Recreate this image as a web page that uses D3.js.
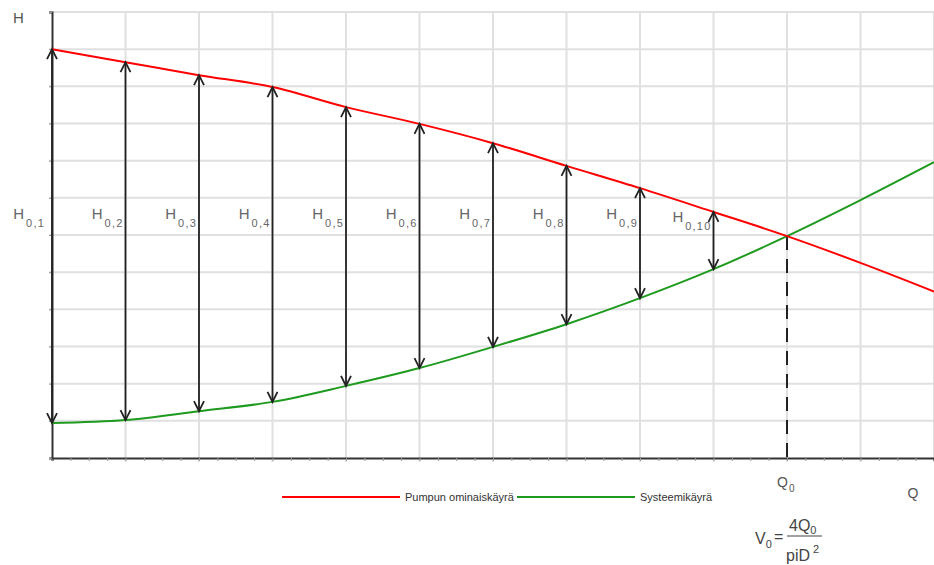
<!DOCTYPE html>
<html><head><meta charset="utf-8">
<script src="https://cdn.jsdelivr.net/npm/d3@7"></script>
<style>body{margin:0;background:#fff}svg{display:block;font-family:"Liberation Sans",Arial,sans-serif}</style>
</head><body><svg id="c" width="934" height="565"></svg>
<script>
const qValues = [0,1,2,3,4,5,6,7,8,9,10,11,12];
const pumpCurve = [11.0,10.65,10.3,9.98,9.44,8.99,8.47,7.86,7.26,6.62,5.97,5.25,4.48];
const systemCurve = [0.94,1.02,1.26,1.51,1.94,2.42,2.99,3.6,4.3,5.08,5.97,6.94,7.96];
const arrowQ = [0,1,2,3,4,5,6,7,8,9];
const arrowLabels = ["0,1","0,2","0,3","0,4","0,5","0,6","0,7","0,8","0,9","0,10"];
const legendNames = ["Pumpun ominaiskäyrä","Systeemikäyrä"];
const Q0 = 10;

const svg = d3.select("#c");
const x = d3.scaleLinear([0,12],[52,934]);
const y = d3.scaleLinear([0,12],[458,12]);
const RED = "#ff0000", GREEN = "#1e9a1e";

// grid
const g = svg.append("g");
g.selectAll(".gx").data(d3.range(1,13)).join("line")
  .attr("x1",d=>x(d)).attr("x2",d=>x(d)).attr("y1",y(12)).attr("y2",y(0)+4)
  .attr("stroke","#e0e0e0").attr("stroke-width",2);
g.selectAll(".gy").data(d3.range(1,13)).join("line")
  .attr("x1",x(0)-3).attr("x2",934).attr("y1",d=>y(d)).attr("y2",d=>y(d))
  .attr("stroke","#e0e0e0").attr("stroke-width",2);

// axes
const xAxis = d3.axisBottom(x).tickValues(d3.range(0,12.01,0.25)).tickSize(3).tickFormat("");
svg.append("g").attr("transform",`translate(0,${y(0)})`).call(xAxis)
  .call(a=>{a.select(".domain").attr("stroke","#333").attr("stroke-width",2);
            a.selectAll(".tick line").attr("stroke","#999");});
const yAxis = d3.axisLeft(y).tickValues(d3.range(0,12.01,1)).tickSize(3).tickFormat("");
svg.append("g").attr("transform",`translate(${x(0)},0)`).call(yAxis)
  .call(a=>{a.select(".domain").attr("stroke","#333").attr("stroke-width",2);
            a.selectAll(".tick line").attr("stroke","#999");});

// dashed Q0 line
svg.append("line").attr("x1",x(Q0)).attr("x2",x(Q0))
  .attr("y1",y(pumpCurve[qValues.indexOf(Q0)])).attr("y2",y(0))
  .attr("stroke","#222").attr("stroke-width",2).attr("stroke-dasharray","14,9");

// curves
const line = (arr)=>d3.line().x((d,i)=>x(qValues[i])).y(d=>y(d)).curve(d3.curveMonotoneX)(arr);
svg.append("path").attr("d",line(systemCurve)).attr("fill","none").attr("stroke",GREEN).attr("stroke-width",2);
svg.append("path").attr("d",line(pumpCurve)).attr("fill","none").attr("stroke",RED).attr("stroke-width",2);

// arrows
const ag = svg.append("g").attr("stroke","#222").attr("fill","none").attr("stroke-width",1.8);
arrowQ.forEach((q,i)=>{
  const px = x(q), yt = y(pumpCurve[i]), yb = y(systemCurve[i]);
  ag.append("line").attr("x1",px).attr("x2",px).attr("y1",yt).attr("y2",yb);
  ag.append("path").attr("d",`M${px-5},${yt+10}L${px},${yt}L${px+5},${yt+10}`);
  ag.append("path").attr("d",`M${px-5},${yb-10}L${px},${yb}L${px+5},${yb-10}`);
});

// H labels
arrowQ.forEach((q,i)=>{
  const t = svg.append("text").attr("x",x(q)-(i===0?7:2)).attr("y",219+(i===9?3:0))
    .attr("text-anchor","end").attr("fill","#666").attr("font-size",15);
  t.append("tspan").text("H");
  t.append("tspan").attr("dy",8).attr("dx",2).attr("font-size",11).attr("letter-spacing",1.2).text(arrowLabels[i]);
});

// axis labels
svg.append("text").attr("x",13).attr("y",23).attr("font-size",15).attr("fill","#555").text("H");
const q0t = svg.append("text").attr("x",777).attr("y",487).attr("font-size",14).attr("fill","#555");
q0t.append("tspan").text("Q");
q0t.append("tspan").attr("dy",5).attr("dx",1).attr("font-size",10).text("0");
svg.append("text").attr("x",913).attr("y",498).attr("text-anchor","middle").attr("font-size",14).attr("fill","#555").text("Q");

// legend
const legColors = [RED, GREEN];
const legX = [282, 517];
legendNames.forEach((n,i)=>{
  svg.append("line").attr("x1",legX[i]).attr("x2",legX[i]+118).attr("y1",497).attr("y2",497)
    .attr("stroke",legColors[i]).attr("stroke-width",2);
  svg.append("text").attr("x",legX[i]+123).attr("y",501).attr("font-size",11).attr("fill","#333").text(n);
});

// formula
const f = svg.append("g").attr("fill","#444").attr("font-size",16);
const v = f.append("text").attr("x",755).attr("y",544);
v.append("tspan").text("V");
v.append("tspan").attr("dy",4).attr("font-size",11).text("0");
f.append("text").attr("x",774).attr("y",542).text("=");
const num = f.append("text").attr("x",789).attr("y",531);
num.append("tspan").text("4Q");
num.append("tspan").attr("dy",3).attr("font-size",11).text("0");
f.append("line").attr("x1",787).attr("x2",822).attr("y1",536).attr("y2",536).attr("stroke","#444").attr("stroke-width",1.2);
const den = f.append("text").attr("x",786).attr("y",561);
den.append("tspan").text("piD");
den.append("tspan").attr("dy",-8).attr("dx",3).attr("font-size",11).text("2");
</script></body></html>
